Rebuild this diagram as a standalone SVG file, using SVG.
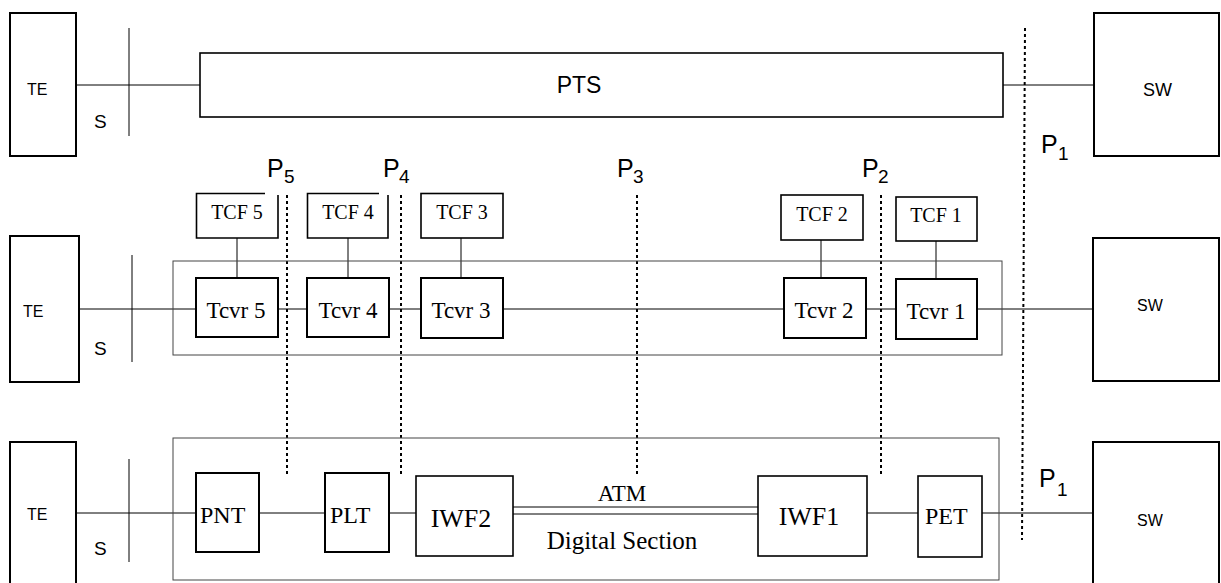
<svg xmlns="http://www.w3.org/2000/svg" width="1221" height="583" viewBox="0 0 1221 583">
<style>
.bx{fill:none;stroke:#000;stroke-width:2}
.bm{fill:none;stroke:#000;stroke-width:1.6}
.bo{fill:none;stroke:#444;stroke-width:1}
.ln{fill:none;stroke:#000;stroke-width:1}
.dot{fill:none;stroke:#000;stroke-width:2;stroke-dasharray:3 3}
.sans{font-family:"Liberation Sans",Arial,sans-serif;fill:#000}
.serif{font-family:"Liberation Serif","Times New Roman",serif;fill:#000}
</style>
<rect width="1221" height="583" fill="#fff"/>

<g id="connectors">
  <!-- top row -->
  <line class="ln" x1="76" y1="85" x2="200" y2="85"/>
  <line class="ln" x1="1003" y1="85" x2="1094" y2="85"/>
  <line class="ln" x1="129" y1="28" x2="129" y2="136"/>
  <!-- middle row -->
  <line class="ln" x1="79" y1="309" x2="196" y2="309"/>
  <line class="ln" x1="132" y1="255" x2="132" y2="362"/>
  <line class="ln" x1="278" y1="309" x2="307" y2="309"/>
  <line class="ln" x1="389" y1="309" x2="421" y2="309"/>
  <line class="ln" x1="503" y1="309" x2="784" y2="309"/>
  <line class="ln" x1="866" y1="309" x2="896" y2="309"/>
  <line class="ln" x1="977" y1="309" x2="1093" y2="309"/>
  <line class="ln" x1="237" y1="238" x2="237" y2="278"/>
  <line class="ln" x1="348" y1="238" x2="348" y2="278"/>
  <line class="ln" x1="461" y1="238" x2="461" y2="278"/>
  <line class="ln" x1="821" y1="240" x2="821" y2="278"/>
  <line class="ln" x1="936" y1="241" x2="936" y2="279"/>
  <!-- bottom row -->
  <line class="ln" x1="76" y1="513" x2="196" y2="513"/>
  <line class="ln" x1="129" y1="459" x2="129" y2="562"/>
  <line class="ln" x1="259" y1="513" x2="325" y2="513"/>
  <line class="ln" x1="389" y1="513" x2="416" y2="513"/>
  <line class="ln" x1="513" y1="507" x2="758" y2="507"/>
  <line class="ln" x1="513" y1="514" x2="758" y2="514"/>
  <line class="ln" x1="867" y1="513" x2="918" y2="513"/>
  <line class="ln" x1="982" y1="513" x2="1093" y2="513"/>
  <!-- reference points -->
  <line class="dot" x1="287" y1="195" x2="287" y2="474"/>
  <line class="dot" x1="401" y1="195" x2="401" y2="474"/>
  <line class="dot" x1="637" y1="195" x2="637" y2="474"/>
  <line class="dot" x1="881" y1="195" x2="881" y2="474"/>
  <line class="dot" x1="1025" y1="28" x2="1022" y2="540"/>
</g>

<g id="outer-mid"><rect class="bo" x="173" y="261" width="829" height="94"/></g>
<g id="outer-bot"><rect class="bo" x="173" y="438" width="826" height="142"/></g>

<g id="te-top"><rect class="bx" x="10" y="13" width="66" height="143"/><text class="sans" x="27" y="95" font-size="16">TE</text></g>
<g id="s-top"><text class="sans" x="94" y="128" font-size="19">S</text></g>
<g id="pts"><rect class="bm" x="200" y="53" width="803" height="64"/><text class="sans" x="579" y="93" font-size="23" text-anchor="middle">PTS</text></g>
<g id="sw-top"><rect class="bx" x="1094" y="13" width="125" height="143"/><text class="sans" x="1143" y="96" font-size="18">SW</text></g>
<g id="p1-top"><text class="sans" x="1041" y="153" font-size="25">P</text><text class="sans" x="1058" y="160" font-size="19">1</text></g>

<g id="p5"><text class="sans" x="267" y="177" font-size="25">P</text><text class="sans" x="284" y="183" font-size="19">5</text></g>
<g id="p4"><text class="sans" x="383" y="177" font-size="25">P</text><text class="sans" x="399" y="183" font-size="19">4</text></g>
<g id="p3"><text class="sans" x="617" y="177" font-size="25">P</text><text class="sans" x="633" y="183" font-size="19">3</text></g>
<g id="p2"><text class="sans" x="862" y="177" font-size="25">P</text><text class="sans" x="878" y="183" font-size="19">2</text></g>

<g id="te-mid"><rect class="bx" x="10" y="236" width="69" height="146"/><text class="sans" x="23" y="317" font-size="16">TE</text></g>
<g id="s-mid"><text class="sans" x="94" y="355" font-size="19">S</text></g>
<g id="tcf5"><path class="bm" d="M265,193.5 H196.5 V238 H278 V195"/><text class="serif" x="237" y="219" font-size="20" text-anchor="middle">TCF 5</text></g>
<g id="tcf4"><path class="bm" d="M379,193.5 H307.5 V238 H388 V195"/><text class="serif" x="348" y="219" font-size="20" text-anchor="middle">TCF 4</text></g>
<g id="tcf3"><rect class="bm" x="421" y="193.5" width="82" height="44.5"/><text class="serif" x="462" y="219" font-size="20" text-anchor="middle">TCF 3</text></g>
<g id="tcf2"><rect class="bm" x="781" y="195" width="82" height="45"/><text class="serif" x="822" y="221" font-size="20" text-anchor="middle">TCF 2</text></g>
<g id="tcf1"><rect class="bm" x="896" y="197" width="81" height="44"/><text class="serif" x="936" y="222" font-size="20" text-anchor="middle">TCF 1</text></g>
<g id="tcvr5"><rect class="bx" x="196" y="278" width="82" height="59"/><text class="serif" x="236" y="318" font-size="23" text-anchor="middle">Tcvr 5</text></g>
<g id="tcvr4"><rect class="bx" x="307" y="278" width="82" height="59"/><text class="serif" x="348" y="318" font-size="23" text-anchor="middle">Tcvr 4</text></g>
<g id="tcvr3"><rect class="bx" x="421" y="278" width="82" height="60"/><text class="serif" x="461" y="318" font-size="23" text-anchor="middle">Tcvr 3</text></g>
<g id="tcvr2"><rect class="bx" x="784" y="278" width="82" height="60"/><text class="serif" x="824" y="318" font-size="23" text-anchor="middle">Tcvr 2</text></g>
<g id="tcvr1"><rect class="bx" x="896" y="279" width="81" height="60"/><text class="serif" x="936" y="319" font-size="23" text-anchor="middle">Tcvr 1</text></g>
<g id="sw-mid"><rect class="bx" x="1093" y="238" width="126" height="143"/><text class="sans" x="1137" y="311" font-size="16">SW</text></g>

<g id="te-bot"><rect class="bx" x="10" y="442" width="66" height="150"/><text class="sans" x="27" y="520" font-size="16">TE</text></g>
<g id="s-bot"><text class="sans" x="94" y="555" font-size="19">S</text></g>
<g id="pnt"><rect class="bx" x="196" y="473" width="63" height="79"/><text class="serif" x="200" y="523" font-size="24">PNT</text></g>
<g id="plt"><rect class="bx" x="325" y="473" width="64" height="79"/><text class="serif" x="330" y="523" font-size="24">PLT</text></g>
<g id="iwf2"><rect class="bm" x="416" y="476" width="97" height="80"/><text class="serif" x="461" y="527" font-size="26" text-anchor="middle">IWF2</text></g>
<g id="atm"><text class="serif" x="622" y="501" font-size="23" text-anchor="middle">ATM</text><text class="serif" x="622" y="549" font-size="25" text-anchor="middle">Digital Section</text></g>
<g id="iwf1"><rect class="bm" x="758" y="476" width="109" height="80"/><text class="serif" x="809" y="525" font-size="26" text-anchor="middle">IWF1</text></g>
<g id="pet"><rect class="bm" x="918" y="476" width="64" height="81"/><text class="serif" x="925" y="524" font-size="24">PET</text></g>
<g id="p1-bot"><text class="sans" x="1039" y="487" font-size="25">P</text><text class="sans" x="1057" y="496" font-size="19">1</text></g>
<g id="sw-bot"><rect class="bx" x="1093" y="442" width="126" height="150"/><text class="sans" x="1137" y="526" font-size="16">SW</text></g>
</svg>
